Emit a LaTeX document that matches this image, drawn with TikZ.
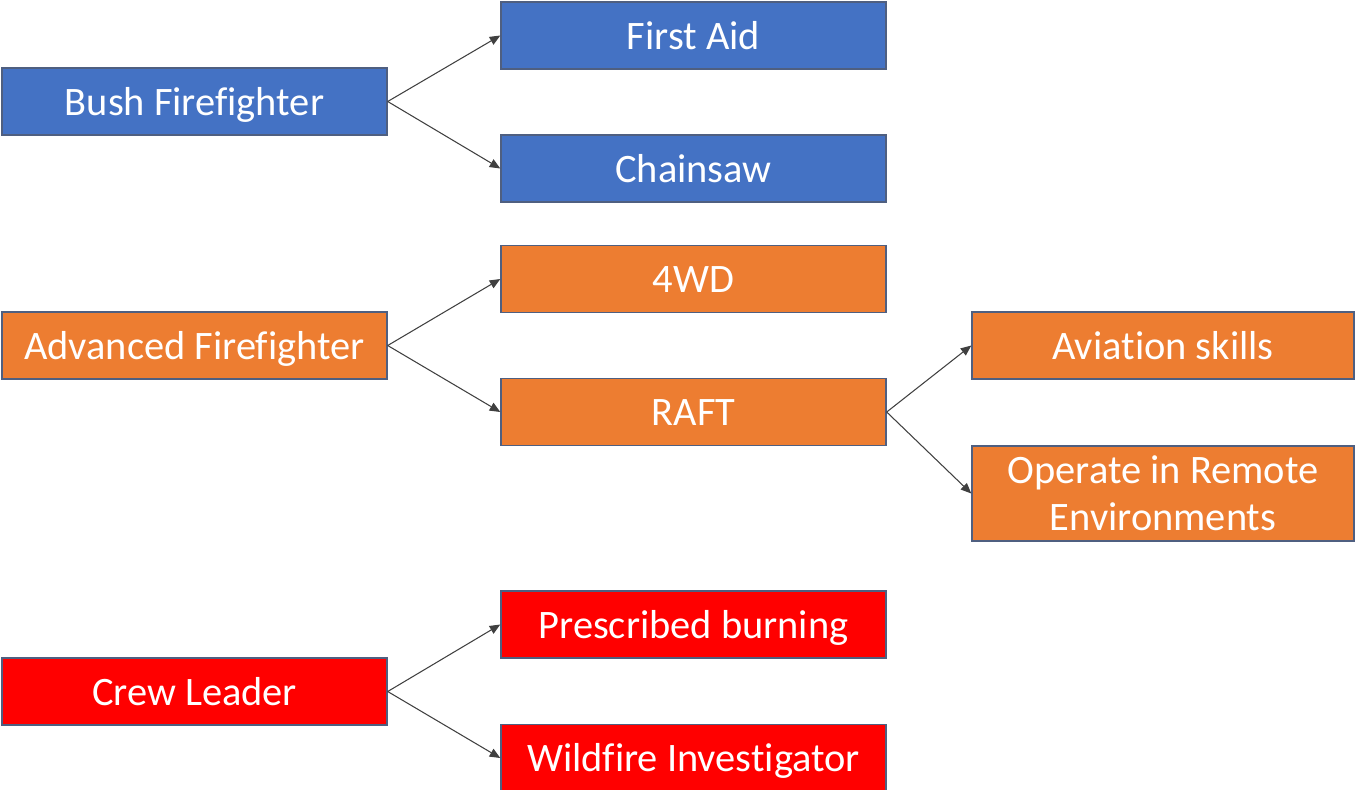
\documentclass[tikz,border=0pt]{standalone}
\usepackage{fontspec}
\setmainfont{Carlito}[Ligatures=NoCommon]
\usepackage{tikz}
\usetikzlibrary{arrows.meta}
\definecolor{bushblue}{HTML}{4472C4}
\definecolor{advorange}{HTML}{ED7D31}
\definecolor{crewred}{HTML}{FF0000}
\definecolor{boxline}{HTML}{4F5F80}
\tikzset{
    card/.style={draw=boxline, line width=0.8pt, text=white, inner sep=0pt,
        minimum width=7.7cm, minimum height=1.34cm,
        text height=21.9pt, text depth=6.2pt,
        font=\fontsize{23}{27}\selectfont},
    bushcard/.style={card, fill=bushblue},
    advcard/.style={card, fill=advorange},
    crewcard/.style={card, fill=crewred},
    link/.style={draw=black!75, line width=0.6pt, -{Triangle[length=6pt,width=5pt]}}
}

\begin{document}
\begin{tikzpicture}
            \useasboundingbox (0,0) rectangle (27.1,-15.78);
            % Bush Firefighter
            \node[bushcard] (bush) at (3.89,-2.03) {Bush Firefighter};
                \node[bushcard] (firstaid) at (13.87,-0.71) {First Aid};
                \node[bushcard] (chainsaw) at (13.87,-3.37) {Chainsaw};
            % Advanced Firefighter
            \node[advcard] (advanced) at (3.89,-6.91) {Advanced Firefighter};
                \node[advcard] (fourwd) at (13.87,-5.58) {4WD};
                \node[advcard] (raft) at (13.87,-8.24) {RAFT};
                \node[advcard, minimum width=7.64cm] (aviation) at (23.26,-6.91) {Aviation skills};
                \node[advcard, minimum width=7.64cm, minimum height=1.9cm, text height={}, text depth={}, align=center] (remote) at (23.26,-9.87) {Operate in Remote\\Environments};
            % Crew Leader
            \node[crewcard] (crew) at (3.89,-13.83) {Crew Leader};
                \node[crewcard] (prescribed) at (13.87,-12.49) {Prescribed burning};
                \node[crewcard] (wildfire) at (13.87,-15.16) {Wildfire Investigator};
            % liens
            \draw[link] (bush.east) -- (firstaid.west);
            \draw[link] (bush.east) -- (chainsaw.west);
            \draw[link] (advanced.east) -- (fourwd.west);
            \draw[link] (advanced.east) -- (raft.west);
            \draw[link] (raft.east) -- (aviation.west);
            \draw[link] (raft.east) -- (remote.west);
            \draw[link] (crew.east) -- (prescribed.west);
            \draw[link] (crew.east) -- (wildfire.west);
        \end{tikzpicture}
\end{document}
